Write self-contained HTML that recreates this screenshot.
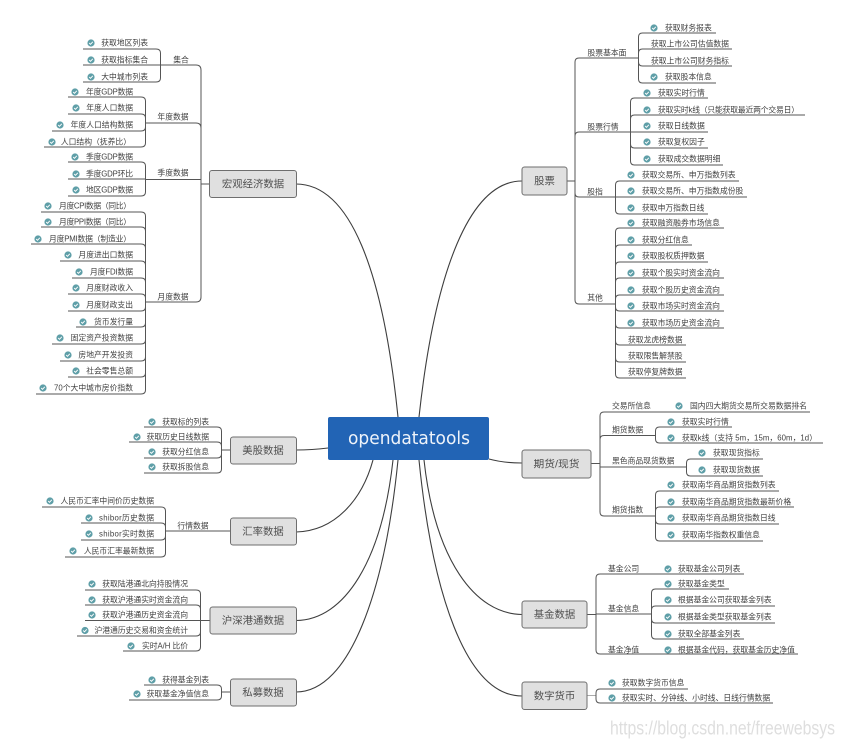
<!DOCTYPE html>
<html lang="zh"><head><meta charset="utf-8"><title>opendatatools</title>
<style>
html,body{margin:0;padding:0;background:#fff;width:844px;height:747px;overflow:hidden}
svg{display:block;filter:blur(.25px)}
text{font-family:"Liberation Sans","Noto Sans CJK SC",sans-serif;dominant-baseline:central;fill:#404040;font-size:7.8px}
.e{text-anchor:end}.m{text-anchor:middle}
.n{font-size:10.4px;text-anchor:middle;fill:#505050;transform:translateY(1.2px)}
.l{fill:none;stroke:#555;stroke-width:1}
.c{fill:none;stroke:#3d3d3d;stroke-width:1.1}
.b{fill:#e0e0e0;stroke:#6e6e6e;stroke-width:1}
</style></head><body>
<svg width="844" height="747" viewBox="0 0 844 747" xmlns="http://www.w3.org/2000/svg">
<defs><g id="k"><circle r="3.6" fill="#5f9fa8"/><path d="M-1.8 0L-.5 1.3L1.8-1.2" fill="none" stroke="#fff" stroke-width=".9"/></g></defs>

<!-- main curves -->
<path class="c" d="M296 184C350 184 383 270 398 417M522 181C470 181 435 270 419 417M296 450C310 450 320 449 328 448M489 459C500 462 510 463 522 463M296 532C335 531 362 500 373 460M296 620.5C345 620 382 560 393 460M296 692C350 692 385 590 398 460M522 614.5C475 614 435 560 424 460M522 696C465 696 432 590 419 460"/>

<!-- left branches -->
<path class="l" d="M201 70V297Q201 302 196 302H145M160 65H196Q201 65 201 70M145 123H196Q201 123 201 128M145 179.5H201M201 184H209"/>
<path class="l" d="M83 49H156Q160.500 49 160.500 53V78Q160.500 82 156 82H83M83 65H160"/>
<path class="l" d="M68 97H141Q145.500 97 145.500 101V143Q145.500 147 141 147H44M68 114H141Q145.500 114 145.500 118V127Q145.500 131 141 131H52"/>
<path class="l" d="M68 162H141Q145.500 162 145.500 166V192Q145.500 196 141 196H68M68 179H145"/>
<path class="l" d="M41 212H141Q145.500 212 145.500 216V390Q145.500 394 141 394H36M41 227H141Q145.500 227 145.500 231M31 244H141Q145.500 244 145.500 248M60 261H141Q145.500 261 145.500 265M72 278H141Q145.500 278 145.500 282M68 294H141Q145.500 294 145.500 298V307Q145.500 311 141 311H68M76 327H141Q145.500 327 145.500 323M52 344H141Q145.500 344 145.500 340M60 361H141Q145.500 361 145.500 357M68 377H141Q145.500 377 145.500 373"/>
<path class="l" d="M144 427H217Q221.500 427 221.500 431V469Q221.500 473 217 473H144M129 442H217Q221.500 442 221.500 446V454Q221.500 458 217 458H144M221 450H230"/>
<path class="l" d="M42 507H161Q165.500 507 165.500 511V553Q165.500 557 161 557H65M81 523H161Q165.500 523 165.500 527V536Q165.500 540 161 540H81M165 531H230"/>
<path class="l" d="M85 590H196Q200.500 590 200.500 594V647Q200.500 651 196 651H123M85 605H196Q200.500 605 200.500 609V632Q200.500 636 196 636H77M85 620.500H210"/>
<path class="l" d="M144 685H217Q221.500 685 221.500 689V696Q221.500 700 217 700H129M221 692H230"/>

<!-- right branches -->
<path class="l" d="M567 181H575M575 62Q575 58 579 58H639M575 62V300Q575 304 579 304H615M575 136Q575 132 579 132H631M575 193Q575 197 579 197H615"/>
<path class="l" d="M642.500 33H716M638.500 37Q638.500 33 642.500 33M638.500 37V79Q638.500 83 642.500 83H716M642.500 49H732M638.500 53Q638.500 49 642.500 49M638.500 62Q638.500 66 642.500 66H732"/>
<path class="l" d="M634.500 98H708M630.500 102Q630.500 98 634.500 98M630.500 102V161Q630.500 165 634.500 165H723M634.500 115H805M630.500 119Q630.500 115 634.500 115M631 132H708M630.500 144Q630.500 148 634.500 148H708"/>
<path class="l" d="M619.500 181H739M615.500 185Q615.500 181 619.500 181M615.500 185V210Q615.500 214 619.500 214H708M615 197H747"/>
<path class="l" d="M619.500 228H724M615.500 232Q615.500 228 619.500 228M615.500 232V374Q615.500 378 619.500 378H686M619.500 245H692M615.500 249Q615.500 245 619.500 245M619.500 262H708M615.500 266Q615.500 262 619.500 262M619.500 278H724M615.500 282Q615.500 278 619.500 278M619.500 295H724M615.500 299Q615.500 295 619.500 295M615.500 307Q615.500 311 619.500 311H724M615.500 324Q615.500 328 619.500 328H724M615.500 341Q615.500 345 619.500 345H686M615.500 358Q615.500 362 619.500 362H686"/>
<path class="l" d="M591 463.500H600M604 412H810M600 416Q600 412 604 412M600 416V512Q600 516 604 516H655M604 435.500H655M600 439.500Q600 435.500 604 435.500M600 467H686"/>
<path class="l" d="M659.500 427H732M655.500 431Q655.500 427 659.500 427M655.500 431V439Q655.500 443 659.500 443H823"/>
<path class="l" d="M690.500 459H763M686.500 463Q686.500 459 690.500 459M686.500 463V472Q686.500 476 690.500 476H763"/>
<path class="l" d="M659.500 491H779M655.500 495Q655.500 491 659.500 491M655.500 495V537Q655.500 541 659.500 541H763M659.500 507H794M655.500 511Q655.500 507 659.500 507M655.500 520Q655.500 524 659.500 524H779"/>
<path class="l" d="M587 614.500H596M600 574H744M596 578Q596 574 600 574M596 578V650Q596 654 600 654H798M596 614H651"/>
<path class="l" d="M655.500 589H729M651.500 593Q651.500 589 655.500 589M651.500 593V635Q651.500 639 655.500 639H744M655.500 606H775M651.500 610Q651.500 606 655.500 606M651.500 619Q651.500 623 655.500 623H775"/>
<path class="l" stroke-opacity=".5" d="M587 695.500H596"/>
<path class="l" d="M600 689H688M596 693Q596 689 600 689M596 693V699Q596 703 600 703H773"/>

<!-- main nodes -->
<rect x="328" y="417" width="161" height="43" rx="2" fill="#2264b5"/>
<text x="409" y="438.500" class="m" font-size="18" textLength="122" lengthAdjust="spacingAndGlyphs" style="font-family:'DejaVu Sans',sans-serif;fill:#eef3fa;font-size:18px">opendatatools</text>
<rect class="b" x="209.500" y="170.500" width="87" height="27" rx="2.500"/><text class="n" x="253" y="184">宏观经济数据</text>
<rect class="b" x="230.500" y="437" width="66" height="27" rx="2.500"/><text class="n" x="263" y="450.500">美股数据</text>
<rect class="b" x="230.500" y="518" width="66" height="27" rx="2.500"/><text class="n" x="263" y="531.500">汇率数据</text>
<rect class="b" x="210" y="607" width="86.500" height="27" rx="2.500"/><text class="n" x="253" y="620.500">沪深港通数据</text>
<rect class="b" x="230.500" y="679" width="66" height="27" rx="2.500"/><text class="n" x="263" y="692.500">私募数据</text>
<rect class="b" x="522" y="167" width="45" height="28" rx="2.500"/><text class="n" x="544.500" y="181">股票</text>
<rect class="b" x="522" y="450" width="69" height="28" rx="2.500"/><text class="n" x="556.500" y="464" textLength="46" lengthAdjust="spacingAndGlyphs">期货/现货</text>
<rect class="b" x="522" y="601" width="65" height="27" rx="2.500"/><text class="n" x="554.500" y="614.500">基金数据</text>
<rect class="b" x="522" y="682" width="65" height="27.500" rx="2.500"/><text class="n" x="554.500" y="696">数字货币</text>

<!-- left labels -->
<text class="m" x="181" y="60">集合</text><text class="m" x="173" y="117">年度数据</text><text class="m" x="173" y="173">季度数据</text><text class="m" x="173" y="297">月度数据</text><text class="m" x="193" y="526">行情数据</text>

<use href="#k" x="91" y="43"/><text class="e" x="148" y="43">获取地区列表</text>
<use href="#k" x="91" y="60"/><text class="e" x="148" y="60">获取指标集合</text>
<use href="#k" x="91" y="77"/><text class="e" x="148" y="77">大中城市列表</text>
<use href="#k" x="75" y="92"/><text class="e" x="133" y="92" textLength="47">年度GDP数据</text>
<use href="#k" x="76" y="108"/><text class="e" x="133" y="108">年度人口数据</text>
<use href="#k" x="60" y="125"/><text class="e" x="133" y="125">年度人口结构数据</text>
<use href="#k" x="52" y="142"/><text class="e" x="131" y="142">人口结构（抚养比）</text>
<use href="#k" x="75" y="157"/><text class="e" x="133" y="157" textLength="47">季度GDP数据</text>
<use href="#k" x="76" y="174"/><text class="e" x="133" y="174" textLength="47">季度GDP环比</text>
<use href="#k" x="76" y="190"/><text class="e" x="133" y="190" textLength="47">地区GDP数据</text>
<use href="#k" x="48" y="206"/><text class="e" x="131" y="206" textLength="72">月度CPI数据（同比）</text>
<use href="#k" x="48" y="222"/><text class="e" x="131" y="222" textLength="72">月度PPI数据（同比）</text>
<use href="#k" x="38" y="239"/><text class="e" x="131" y="239" textLength="82">月度PMI数据（制造业）</text>
<use href="#k" x="68" y="255"/><text class="e" x="133" y="255">月度进出口数据</text>
<use href="#k" x="79" y="272"/><text class="e" x="133" y="272" textLength="43">月度FDI数据</text>
<use href="#k" x="76" y="288"/><text class="e" x="133" y="288">月度财政收入</text>
<use href="#k" x="76" y="305"/><text class="e" x="133" y="305">月度财政支出</text>
<use href="#k" x="83" y="322"/><text class="e" x="133" y="322">货币发行量</text>
<use href="#k" x="60" y="338"/><text class="e" x="133" y="338">固定资产投资数据</text>
<use href="#k" x="68" y="355"/><text class="e" x="133" y="355">房地产开发投资</text>
<use href="#k" x="76" y="371"/><text class="e" x="133" y="371">社会零售总额</text>
<use href="#k" x="43" y="388"/><text class="e" x="133" y="388" textLength="79">70个大中城市房价指数</text>

<use href="#k" x="152" y="422"/><text class="e" x="209" y="422">获取标的列表</text>
<use href="#k" x="137" y="437"/><text class="e" x="209" y="437">获取历史日线数据</text>
<use href="#k" x="152" y="452"/><text class="e" x="209" y="452">获取分红信息</text>
<use href="#k" x="152" y="467"/><text class="e" x="209" y="467">获取拆股信息</text>
<use href="#k" x="50" y="501"/><text class="e" x="154" y="501">人民币汇率中间价历史数据</text>
<use href="#k" x="89" y="518"/><text class="e" x="154" y="518" textLength="55">shibor历史数据</text>
<use href="#k" x="89" y="534"/><text class="e" x="154" y="534" textLength="55">shibor实时数据</text>
<use href="#k" x="73" y="551"/><text class="e" x="154" y="551">人民币汇率最新数据</text>
<use href="#k" x="92" y="584"/><text class="e" x="188" y="584">获取陆港通北向持股情况</text>
<use href="#k" x="92" y="600"/><text class="e" x="188" y="600">获取沪港通实时资金流向</text>
<use href="#k" x="92" y="615"/><text class="e" x="188" y="615">获取沪港通历史资金流向</text>
<use href="#k" x="85" y="630.500"/><text class="e" x="188" y="630.500">沪港通历史交易和资金统计</text>
<use href="#k" x="131" y="646"/><text class="e" x="188" y="646" textLength="46">实时A/H 比价</text>
<use href="#k" x="152" y="680"/><text class="e" x="209" y="680">获得基金列表</text>
<use href="#k" x="137" y="694"/><text class="e" x="209" y="694">获取基金净值信息</text>

<!-- right labels -->
<text class="m" x="607" y="53">股票基本面</text><text class="m" x="603" y="127">股票行情</text><text class="m" x="595" y="192">股指</text><text class="m" x="595" y="298">其他</text>
<text x="612" y="406">交易所信息</text><text x="612" y="430">期货数据</text><text x="612" y="461">黑色商品现货数据</text><text x="612" y="510">期货指数</text>
<text x="608" y="569">基金公司</text><text x="608" y="609">基金信息</text><text x="608" y="650">基金净值</text>

<use href="#k" x="654" y="28"/><text x="665" y="28">获取财务报表</text>
<text x="651" y="44">获取上市公司估值数据</text>
<text x="651" y="61">获取上市公司财务指标</text>
<use href="#k" x="654" y="77"/><text x="665" y="77">获取股本信息</text>
<use href="#k" x="647" y="93"/><text x="658" y="93">获取实时行情</text>
<use href="#k" x="647" y="110"/><text x="658" y="110" textLength="141">获取实时k线（只能获取最近两个交易日）</text>
<use href="#k" x="647" y="126"/><text x="658" y="126">获取日线数据</text>
<use href="#k" x="647" y="142"/><text x="658" y="142">获取复权因子</text>
<use href="#k" x="647" y="159"/><text x="658" y="159">获取成交数据明细</text>
<use href="#k" x="631" y="175"/><text x="642" y="175">获取交易所、申万指数列表</text>
<use href="#k" x="631" y="191"/><text x="642" y="191">获取交易所、申万指数成份股</text>
<use href="#k" x="631" y="208"/><text x="642" y="208">获取申万指数日线</text>
<use href="#k" x="631" y="223"/><text x="642" y="223">获取融资融券市场信息</text>
<use href="#k" x="631" y="240"/><text x="642" y="240">获取分红信息</text>
<use href="#k" x="631" y="256"/><text x="642" y="256">获取股权质押数据</text>
<use href="#k" x="631" y="273"/><text x="642" y="273">获取个股实时资金流向</text>
<use href="#k" x="631" y="290"/><text x="642" y="290">获取个股历史资金流向</text>
<use href="#k" x="631" y="306"/><text x="642" y="306">获取市场实时资金流向</text>
<use href="#k" x="631" y="323"/><text x="642" y="323">获取市场历史资金流向</text>
<text x="628" y="340">获取龙虎榜数据</text>
<text x="628" y="356">获取限售解禁股</text>
<text x="628" y="372">获取停复牌数据</text>

<use href="#k" x="679" y="406"/><text x="690" y="406">国内四大期货交易所交易数据排名</text>
<use href="#k" x="671" y="422"/><text x="682" y="422">获取实时行情</text>
<use href="#k" x="671" y="438"/><text x="682" y="438" textLength="135">获取k线（支持 5m，15m，60m，1d）</text>
<use href="#k" x="702" y="453"/><text x="713" y="453">获取现货指标</text>
<use href="#k" x="702" y="470"/><text x="713" y="470">获取现货数据</text>
<use href="#k" x="671" y="485"/><text x="682" y="485">获取南华商品期货指数列表</text>
<use href="#k" x="671" y="502"/><text x="682" y="502">获取南华商品期货指数最新价格</text>
<use href="#k" x="671" y="518"/><text x="682" y="518">获取南华商品期货指数日线</text>
<use href="#k" x="671" y="535"/><text x="682" y="535">获取南华指数权重信息</text>

<use href="#k" x="668" y="569"/><text x="678" y="569">获取基金公司列表</text>
<use href="#k" x="668" y="584"/><text x="678" y="584">获取基金类型</text>
<use href="#k" x="668" y="600"/><text x="678" y="600">根据基金公司获取基金列表</text>
<use href="#k" x="668" y="617"/><text x="678" y="617">根据基金类型获取基金列表</text>
<use href="#k" x="668" y="634"/><text x="678" y="634">获取全部基金列表</text>
<use href="#k" x="668" y="650"/><text x="678" y="650">根据基金代码，获取基金历史净值</text>
<use href="#k" x="612" y="683"/><text x="622" y="683">获取数字货币信息</text>
<use href="#k" x="612" y="698"/><text x="622" y="698">获取实时、分钟线、小时线、日线行情数据</text>

<text x="610" y="729" textLength="225" lengthAdjust="spacingAndGlyphs" style="font-size:19px;fill:#dedede">https://blog.csdn.net/freewebsys</text>
</svg>
</body></html>
